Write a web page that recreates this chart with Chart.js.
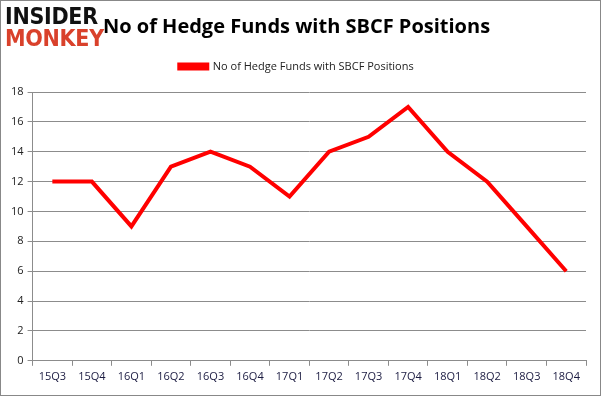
<!DOCTYPE html>
<html>
<head>
<meta charset="utf-8">
<script src="https://cdn.jsdelivr.net/npm/chart.js@4"></script>
<style>
  body { margin: 0; background: #fff; }
  #wrap { position: relative; width: 599px; height: 394px; border: 1px solid #888; }
  #logo { position: absolute; left: 4px; top: 4px; font-family: "DejaVu Sans Condensed", "DejaVu Sans", sans-serif; font-weight: bold; font-size: 23px; line-height: 22px; letter-spacing: -0.3px; }
  #logo .a { color: #111; }
  #logo .b { color: #d9412b; }
</style>
</head>
<body>
<div id="wrap">
  <canvas id="myChart"></canvas>
  <div id="logo"><div class="a">INSIDER</div><div class="b">MONKEY</div></div>
</div>
<script>
// Quarters and hedge fund counts
const quarters = ["15Q3", "15Q4", "16Q1", "16Q2", "16Q3", "16Q4", "17Q1", "17Q2", "17Q3", "17Q4", "18Q1", "18Q2", "18Q3", "18Q4"];
const fundCounts = [12, 12, 9, 13, 14, 13, 11, 14, 15, 17, 14, 12, 9, 6];
const yTicks = [0, 2, 4, 6, 8, 10, 12, 14, 16, 18];

const gridColor = "#8c8c8c";
const font = "'Open Sans', 'Liberation Sans', sans-serif";

const ctx = document.getElementById('myChart').getContext('2d');
const myChart = new Chart(ctx, {
    type: 'line',
    data: {
        labels: quarters,
        datasets: [{
            label: 'No of Hedge Funds with SBCF Positions',
            data: fundCounts,
            borderColor: '#ff0000',
            backgroundColor: '#ff0000',
            borderWidth: 4,
            pointRadius: 0,
            tension: 0
        }]
    },
    options: {
        responsive: true,
        maintainAspectRatio: false,
        animation: false,
        layout: { padding: { left: 6, right: 14, top: 4, bottom: 8 } },
        plugins: {
            title: {
                display: true,
                text: 'No of Hedge Funds with SBCF Positions',
                color: '#000',
                font: { family: font, size: 20 },
                padding: { top: 10, bottom: 12 }
            },
            legend: {
                labels: {
                    boxWidth: 28,
                    boxHeight: 4,
                    color: '#222',
                    font: { family: font, size: 11 },
                    padding: 10
                }
            },
            tooltip: { enabled: false }
        },
        scales: {
            x: {
                offset: true,
                grid: { offset: true, drawOnChartArea: false, color: gridColor, tickLength: 5 },
                border: { color: gridColor },
                ticks: { color: '#1a1a40', font: { family: font, size: 11 }, maxRotation: 0, padding: 4 }
            },
            y: {
                min: 0,
                max: 18,
                afterBuildTicks: axis => { axis.ticks = yTicks.map(v => ({ value: v })); },
                grid: { color: gridColor, tickLength: 5 },
                border: { color: gridColor },
                ticks: { color: '#222', font: { family: font, size: 11 }, padding: 4 }
            }
        }
    },
    plugins: [{
        // extra space under the legend, like the reference
        id: 'legendGap',
        beforeInit(chart) {
            const fit = chart.legend.fit;
            chart.legend.fit = function () {
                fit.call(this);
                this.height += 10;
            };
        }
    }]
});
</script>
</body>
</html>
